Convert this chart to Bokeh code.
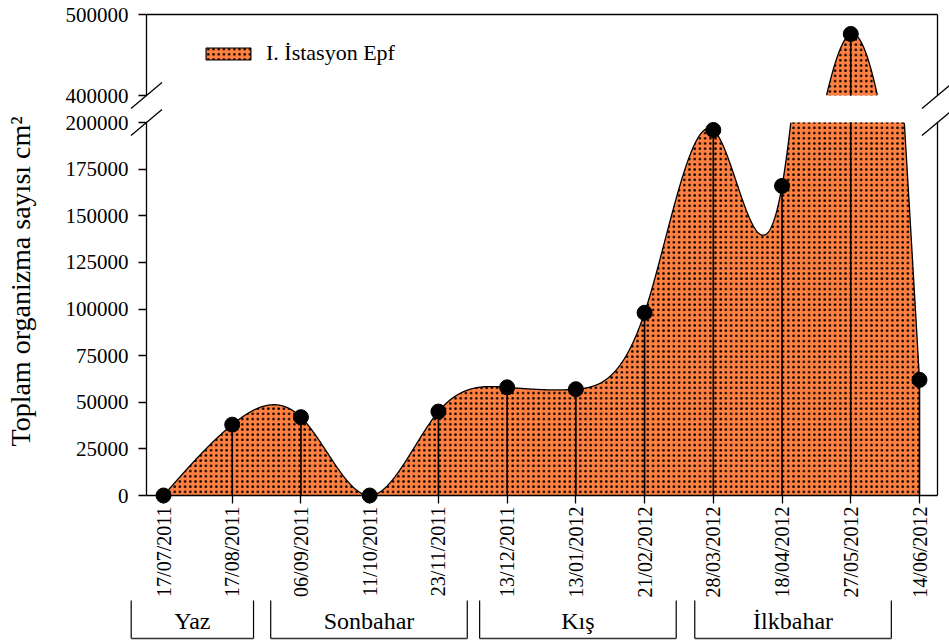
import numpy as np
from bokeh.plotting import figure
from bokeh.core.properties import value
from bokeh.models import (Range1d, FixedTicker, LinearAxis, BasicTickFormatter,
                          Legend, LegendItem, Label)
from bokeh.layouts import column
from bokeh.embed import file_html
from bokeh.resources import INLINE

# ---------------- data ----------------
dates = ["17/07/2011", "17/08/2011", "06/09/2011", "11/10/2011", "23/11/2011",
         "13/12/2011", "13/01/2012", "21/02/2012", "28/03/2012", "18/04/2012",
         "27/05/2012", "14/06/2012"]
values = [0, 38000, 42000, 0, 45000, 58000, 57000, 98000, 196000, 166000, 476000, 62000]
yticks_low = [0, 25000, 50000, 75000, 100000, 125000, 150000, 175000, 200000]
yticks_high = [400000, 500000]
seasons = ["Yaz", "Sonbahar", "Kış", "İlkbahar"]
season_start = [-0.47, 1.56, 4.60, 7.73]
season_end = [1.31, 4.42, 7.46, 10.59]
series_name = "I. İstasyon Epf"
y_title = "Toplam organizma sayısı cm²"

FONT = "Liberation Serif"
FILL = "#FF8040"

# ---------------- layout geometry (pixels) ----------------
W, H = 949, 640
PX_FIRST, PX_STEP = 163, 756 / 11      # pixel column of first date, spacing
AX_L, AX_R = 146, 937                  # left axis / right frame line
LOW_LIM, LOW_PX = (0, 200000), (495, 122)
HIGH_LIM, HIGH_PX = (400000, 500000), (95, 14)


def xd(px):
    return (px - PX_FIRST) / PX_STEP


def yl(py):
    return LOW_LIM[0] + (LOW_PX[0] - py) / (LOW_PX[0] - LOW_PX[1]) * (LOW_LIM[1] - LOW_LIM[0])


def yh(py):
    return HIGH_LIM[0] + (HIGH_PX[0] - py) / (HIGH_PX[0] - HIGH_PX[1]) * (HIGH_LIM[1] - HIGH_LIM[0])


def natural_spline(y, per=400):
    y = np.asarray(y, float)
    n = len(y)
    A = np.zeros((n, n))
    b = np.zeros(n)
    A[0, 0] = 1
    A[-1, -1] = 1
    for i in range(1, n - 1):
        A[i, i - 1] = 1
        A[i, i] = 4
        A[i, i + 1] = 1
        b[i] = 6 * (y[i - 1] - 2 * y[i] + y[i + 1])
    M = np.linalg.solve(A, b)
    xs, ys = [], []
    for i in range(n - 1):
        t = np.linspace(0, 1, per, endpoint=(i == n - 2))
        s = (1 - t) * y[i] + t * y[i + 1] - t * (1 - t) / 6 * ((2 - t) * M[i] + (1 + t) * M[i + 1])
        xs.extend(i + t)
        ys.extend(s)
    return np.array(xs), np.array(ys)


idx = list(range(len(dates)))
vals = np.array(values, float)
sx, sy = natural_spline(values)

p = figure(width=W, height=H, x_range=Range1d(xd(0), xd(W)), y_range=Range1d(yl(H), yl(0)),
           x_axis_location=None, y_axis_location=None, min_border=0,
           min_border_left=0, min_border_right=0, min_border_top=0, min_border_bottom=0,
           outline_line_color=None, toolbar_location=None, output_backend="svg",
           background_fill_color="white", border_fill_color="white")
p.extra_y_ranges = {"high": Range1d(yh(H), yh(0))}
p.grid.visible = False

hatch = dict(fill_color=FILL, hatch_pattern="dot", hatch_color="black",
             hatch_scale=5.2, hatch_weight=0.6)

# ---------------- lower panel (0 - 200000) ----------------
p.varea(x=sx, y1=0, y2=np.clip(sy, LOW_LIM[0], LOW_LIM[1]), **hatch)
p.line(sx, np.where(sy <= LOW_LIM[1], np.maximum(sy, LOW_LIM[0]), np.nan),
       line_color="black", line_width=1.3)
p.segment(x0=idx, y0=[0] * len(idx), x1=idx, y1=np.minimum(vals, LOW_LIM[1]),
          line_color="black", line_width=1.6)
low_i = [i for i in idx if values[i] <= LOW_LIM[1]]
p.scatter([i for i in low_i], [values[i] for i in low_i], size=15, color="black")

# ---------------- upper panel (400000 - 500000) ----------------
p.varea(x=sx, y1=HIGH_LIM[0], y2=np.maximum(sy, HIGH_LIM[0]), y_range_name="high", **hatch)
p.line(sx, np.where(sy >= HIGH_LIM[0], sy, np.nan), line_color="black", line_width=1.3,
       y_range_name="high")
p.segment(x0=idx, y0=[HIGH_LIM[0]] * len(idx), x1=idx, y1=np.maximum(vals, HIGH_LIM[0]),
          line_color="black", line_width=1.6, y_range_name="high")
high_i = [i for i in idx if values[i] >= HIGH_LIM[0]]
p.scatter([i for i in high_i], [values[i] for i in high_i], size=15, color="black",
          y_range_name="high")


# ---------------- axes ----------------
def y_axis(ticks, bounds, rname):
    ax = LinearAxis(y_range_name=rname, fixed_location=xd(AX_L), bounds=bounds,
                    ticker=FixedTicker(ticks=ticks),
                    formatter=BasicTickFormatter(use_scientific=False),
                    major_tick_in=0, major_tick_out=8, minor_tick_in=0, minor_tick_out=0,
                    major_label_standoff=10, major_label_text_font=FONT,
                    major_label_text_font_size="21px", major_label_text_color="black",
                    axis_line_color="black", axis_line_width=1.3,
                    major_tick_line_color="black", major_tick_line_width=1.3)
    p.add_layout(ax, "left")


y_axis(yticks_low, LOW_LIM, "default")
y_axis(yticks_high, HIGH_LIM, "high")

xa = LinearAxis(fixed_location=LOW_LIM[0], bounds=(xd(AX_L), xd(AX_R)),
                ticker=FixedTicker(ticks=idx),
                major_label_overrides={i: d for i, d in zip(idx, dates)},
                major_label_orientation=np.pi / 2, major_tick_in=0, major_tick_out=8,
                minor_tick_in=0, minor_tick_out=0, major_label_standoff=3,
                major_label_text_font=FONT, major_label_text_font_size="20px",
                major_label_text_color="black", axis_line_color="black", axis_line_width=1.3,
                major_tick_line_color="black", major_tick_line_width=1.3)
p.add_layout(xa, "below")

# frame lines (top of upper panel, right side of both panels)
p.segment(x0=[xd(AX_L)], y0=[HIGH_LIM[1]], x1=[xd(AX_R)], y1=[HIGH_LIM[1]],
          line_color="black", line_width=1.3, y_range_name="high")
p.segment(x0=[xd(AX_R)], y0=[HIGH_LIM[0]], x1=[xd(AX_R)], y1=[HIGH_LIM[1]],
          line_color="black", line_width=1.3, y_range_name="high")
p.segment(x0=[xd(AX_R)], y0=[LOW_LIM[0]], x1=[xd(AX_R)], y1=[LOW_LIM[1]],
          line_color="black", line_width=1.3)

# axis break marks
bx0, by0, bx1, by1 = [], [], [], []
for cx in (AX_L, AX_R):
    for cy in (HIGH_PX[0], LOW_PX[1]):
        bx0.append(xd(cx - 15.5))
        by0.append(yl(cy + 13))
        bx1.append(xd(cx + 15.5))
        by1.append(yl(cy - 13))
p.segment(x0=bx0, y0=by0, x1=bx1, y1=by1, line_color="black", line_width=1.3)

# y axis title
p.add_layout(Label(x=xd(20), y=yl(446), text=y_title, angle=np.pi / 2, text_align="left",
                   text_baseline="middle", text_font=FONT, text_font_size="28px",
                   text_color="black"))

# legend (degenerate patch hidden under the first marker, used only for the key)
leg_r = p.patch(x=[0, 0, 0], y=[0, 0, 0], line_color="black", line_width=1.2, **hatch)
legend = Legend(items=[LegendItem(label=series_name, renderers=[leg_r])], location=(200, H - 66),
                border_line_color=None, background_fill_alpha=0, padding=0, margin=0,
                glyph_width=56, glyph_height=15, label_standoff=10,
                label_text_font=FONT, label_text_font_size="22px", label_text_color="black")
p.add_layout(legend)

# season brackets
st_top, st_bot = yl(600), yl(638)
n = len(seasons)
p.segment(x0=season_start, y0=[st_bot] * n, x1=season_start, y1=[st_top] * n,
          line_color="black", line_width=1.2)
p.segment(x0=season_end, y0=[st_bot] * n, x1=season_end, y1=[st_top] * n,
          line_color="black", line_width=1.2)
p.segment(x0=season_start, y0=[st_bot] * n, x1=season_end, y1=[st_bot] * n,
          line_color="#333333", line_width=1.6)
p.text(x=[(a + b) / 2 for a, b in zip(season_start, season_end)], y=[yl(620)] * n, text=seasons,
       text_align="center", text_baseline="middle", text_font=value(FONT),
       text_font_size="24px", text_color="black")

layout = column(p, spacing=0)
open("out.html", "w").write(file_html(layout, INLINE))
